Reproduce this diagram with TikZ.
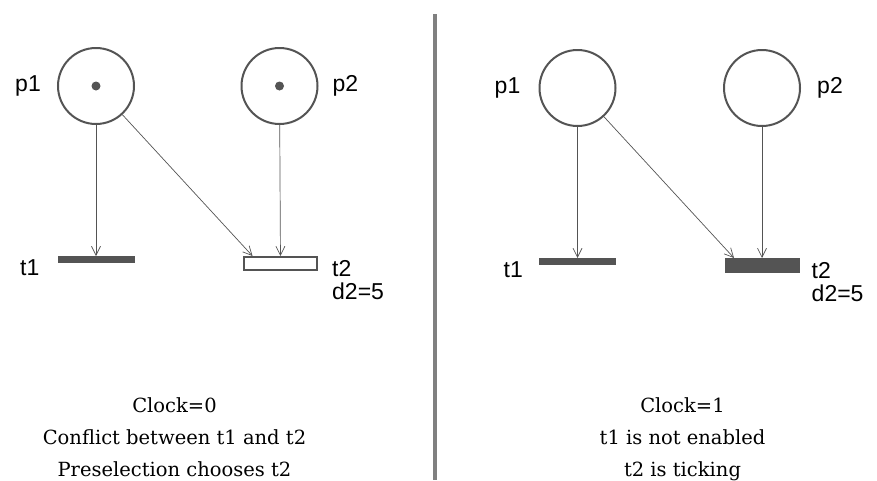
\documentclass[tikz,border=0pt]{standalone}
\usepackage{fontspec}
\setmainfont{DejaVu Serif}
\newfontfamily\labelfont{Liberation Sans}
\usetikzlibrary{arrows.meta,positioning}
\definecolor{inkgray}{gray}{0.33}
\definecolor{rulegray}{gray}{0.5}

\begin{document}
\begin{tikzpicture}[x=1pt,y=-1pt,>={Straight Barb[length=9pt,width=9pt]},
place/.style={draw=inkgray,circle,line width=2pt,minimum size=76pt,inner sep=0pt},
token/.style={fill=inkgray,circle,minimum size=9pt,inner sep=0pt},
bar/.style={draw=inkgray,fill=inkgray,line width=1pt,minimum width=76pt,minimum height=6pt,inner sep=0pt},
tbox/.style={draw=inkgray,line width=2.4pt,minimum width=72.6pt,minimum height=12.6pt,inner sep=0pt},
tfull/.style={tbox,fill=inkgray},
lbl/.style={font=\labelfont\fontsize{23}{26}\selectfont,inner sep=0pt},
note/.style={align=center,inner sep=0pt,anchor=north,font=\fontsize{19.5}{32}\selectfont},
arc/.style={->,draw=inkgray,line width=0.7pt}]
\useasboundingbox (0,0) rectangle (877,480);
% left: clock 0
\node[place] (p1L) at (96,86) {};
\node[place] (p2L) at (279.5,86) {};
\node[token] (k1L) at (p1L) {};
\node[token] (k2L) at (p2L) {};
\node[bar] (t1L) at (96,259.5) {};
\node[tbox] (t2L) at (280.5,263.5) {};
\node[lbl,left=16pt of p1L] (lp1L) {p1};
\node[lbl,right=14pt of p2L] (lp2L) {p2};
\node[lbl,left=18pt of t1L,yshift=-8pt] (lt1L) {t1};
\node[lbl,right=14pt of t2L,yshift=-5pt] (lt2L) {t2};
\node[lbl,below=6pt of lt2L.south west,anchor=north west] (ld2L) {d2=5};
\draw[arc] (p1L)--(t1L);\draw[arc] (p1L)--(t2L.165);\draw[arc] (p2L)--(t2L);
\node[note] (nL) at (174.5,397) {Clock=0\\Conflict between t1 and t2\\Preselection chooses t2};
% divider
\draw[rulegray,line width=3.5pt] (435,14)--(435,480);
% right: clock 1
\begin{scope}[shift={(481.5,2)}]
\node[place] (p1R) at (96,86) {};
\node[place] (p2R) at (280.5,86) {};
\node[bar] (t1R) at (96,259.5) {};
\node[tfull] (t2R) at (280.5,263.5) {};
\node[lbl,left=18pt of p1R] (lp1R) {p1};
\node[lbl,right=16pt of p2R] (lp2R) {p2};
\node[lbl,left=16pt of t1R,yshift=-8pt] (lt1R) {t1};
\node[lbl,right=12pt of t2R,yshift=-5pt] (lt2R) {t2};
\node[lbl,below=6pt of lt2R.south west,anchor=north west] (ld2R) {d2=5};
\draw[arc] (p1R)--(t1R);\draw[arc] (p1R)--(t2R.165);\draw[arc] (p2R)--(t2R);
\end{scope}
\node[note] (nR) at (682.5,397) {Clock=1\\t1 is not enabled\\t2 is ticking};
\end{tikzpicture}
\end{document}
